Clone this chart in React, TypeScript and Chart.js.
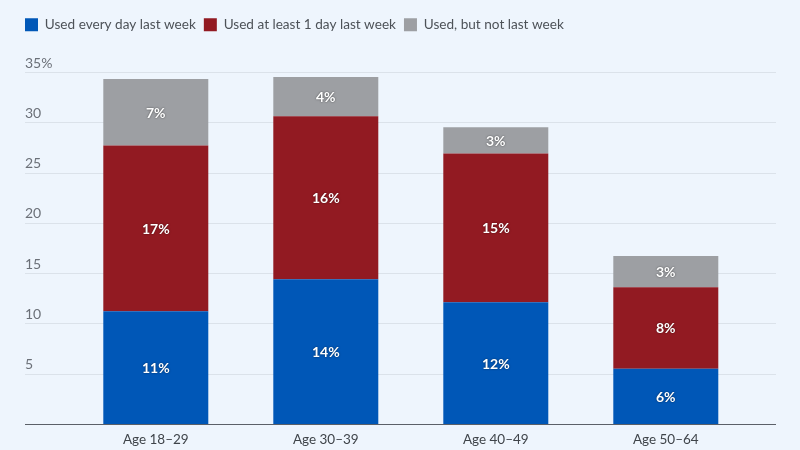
import React, { useEffect, useRef } from 'react';
import { Chart, registerables } from 'chart.js';

Chart.register(...registerables);

// ---- data ----
const categories = ['Age 18–29', 'Age 30–39', 'Age 40–49', 'Age 50–64'];
const seriesNames = ['Used every day last week', 'Used at least 1 day last week', 'Used, but not last week'];
const usedEveryDay = [11.2, 14.4, 12.1, 5.5];
const usedAtLeastOneDay = [16.5, 16.2, 14.8, 8.1];
const usedNotLastWeek = [6.6, 3.9, 2.6, 3.1];
const yMin = 0;
const yMax = 35;
const yStep = 5;

// ---- style ----
const FONT = 'Lato';
const BG = '#eef5fd';
const COLORS = ['#0057b7', '#921a22', '#9d9fa3'];
const GRID_LEFT = 25;
const GRID_RIGHT = 776;

const gridPlugin = {
  id: 'extendedGrid',
  beforeDatasetsDraw(chart: any) {
    const ctx = chart.ctx;
    const y = chart.scales.y;
    ctx.save();
    y.ticks.forEach((t: any) => {
      if (t.value === 0) return;
      const py = Math.round(y.getPixelForValue(t.value)) + 0.5;
      ctx.strokeStyle = '#dbe2ea';
      ctx.lineWidth = 1.2;
      ctx.beginPath();
      ctx.moveTo(GRID_LEFT, py);
      ctx.lineTo(GRID_RIGHT, py);
      ctx.stroke();
    });
    ctx.restore();
  },
  afterDatasetsDraw(chart: any) {
    const ctx = chart.ctx;
    const y = chart.scales.y;
    ctx.save();
    const py = Math.round(y.getPixelForValue(0)) + 0.5;
    ctx.strokeStyle = '#5b6068';
    ctx.lineWidth = 1.2;
    ctx.beginPath();
    ctx.moveTo(GRID_LEFT, py);
    ctx.lineTo(GRID_RIGHT, py);
    ctx.stroke();
    ctx.restore();
  },
};

const barLabelPlugin = {
  id: 'barLabels',
  afterDatasetsDraw(chart: any) {
    const ctx = chart.ctx;
    ctx.save();
    ctx.font = `bold 14px ${FONT}`;
    ctx.textAlign = 'center';
    ctx.textBaseline = 'middle';
    ctx.fillStyle = '#ffffff';
    ctx.shadowColor = 'rgba(0,0,0,0.55)';
    ctx.shadowBlur = 2;
    chart.data.datasets.forEach((ds: any, i: number) => {
      const meta = chart.getDatasetMeta(i);
      meta.data.forEach((bar: any, j: number) => {
        const { x, y, base } = bar.getProps(['x', 'y', 'base'], true);
        const v = ds.data[j];
        ctx.fillText(`${Math.round(v)}%`, x, (y + base) / 2 + 1);
      });
    });
    ctx.restore();
  },
};

const LAYOUT_TOP = 10;
const legendSpacer = {
  id: 'legendSpacer',
  beforeInit(chart: any) {
    const legend = chart.legend;
    if (!legend) return;
    const orig = legend.fit;
    legend.fit = function () {
      orig.call(this);
      this.height = 72 - LAYOUT_TOP;
    };
  },
};

export default function App() {
  const ref = useRef<HTMLCanvasElement | null>(null);

  useEffect(() => {
    let chart: any = null;
    let cancelled = false;
    const build = () => {
      if (cancelled || !ref.current) return;
      chart = new Chart(ref.current, {
        type: 'bar',
        data: {
          labels: categories,
          datasets: [
            { label: seriesNames[0], data: usedEveryDay, backgroundColor: COLORS[0] },
            { label: seriesNames[1], data: usedAtLeastOneDay, backgroundColor: COLORS[1] },
            { label: seriesNames[2], data: usedNotLastWeek, backgroundColor: COLORS[2] },
          ],
        },
        options: {
          responsive: false,
          animation: false,
          devicePixelRatio: 1,
          layout: { padding: { left: 17, right: 49.2, top: LAYOUT_TOP, bottom: 0 } },
          datasets: {
            bar: { categoryPercentage: 0.6176, barPercentage: 1, borderWidth: 0 },
          },
          plugins: {
            tooltip: { enabled: false },
            legend: {
              position: 'top',
              align: 'start',
              labels: {
                boxWidth: 13,
                boxHeight: 13,
                padding: 8,
                color: '#4d5258',
                font: { family: FONT, size: 13.6 },
              },
            },
          },
          scales: {
            x: {
              stacked: true,
              grid: { display: false },
              border: { display: false },
              ticks: { color: '#3f444a', font: { family: FONT, size: 13.5 }, padding: 0 },
              afterFit(scale: any) {
                scale.height = 26;
              },
            },
            y: {
              stacked: true,
              min: yMin,
              max: yMax,
              grid: { display: false },
              border: { display: false },
              ticks: {
                stepSize: yStep,
                mirror: true,
                padding: -45.8,
                labelOffset: -9,
                color: '#6b7078',
                font: { family: FONT, size: 14 },
                callback: (v: any) => (v === 0 ? '' : v === yMax ? `${v}%` : `${v}`),
              },
              afterFit(scale: any) {
                scale.width = 53.8;
              },
            },
          },
        },
        plugins: [gridPlugin, barLabelPlugin, legendSpacer],
      } as any);
    };
    const fonts: any = (document as any).fonts;
    if (fonts && fonts.load) {
      Promise.all([fonts.load(`14px ${FONT}`), fonts.load(`bold 14px ${FONT}`)])
        .catch(() => null)
        .then(build);
    } else {
      build();
    }
    return () => {
      cancelled = true;
      if (chart) chart.destroy();
    };
  }, []);

  return (
    <div style={{ position: 'fixed', left: 0, top: 0, width: 800, height: 450, background: BG }}>
      <canvas ref={ref} width={800} height={450} style={{ display: 'block', width: 800, height: 450 }} />
    </div>
  );
}
